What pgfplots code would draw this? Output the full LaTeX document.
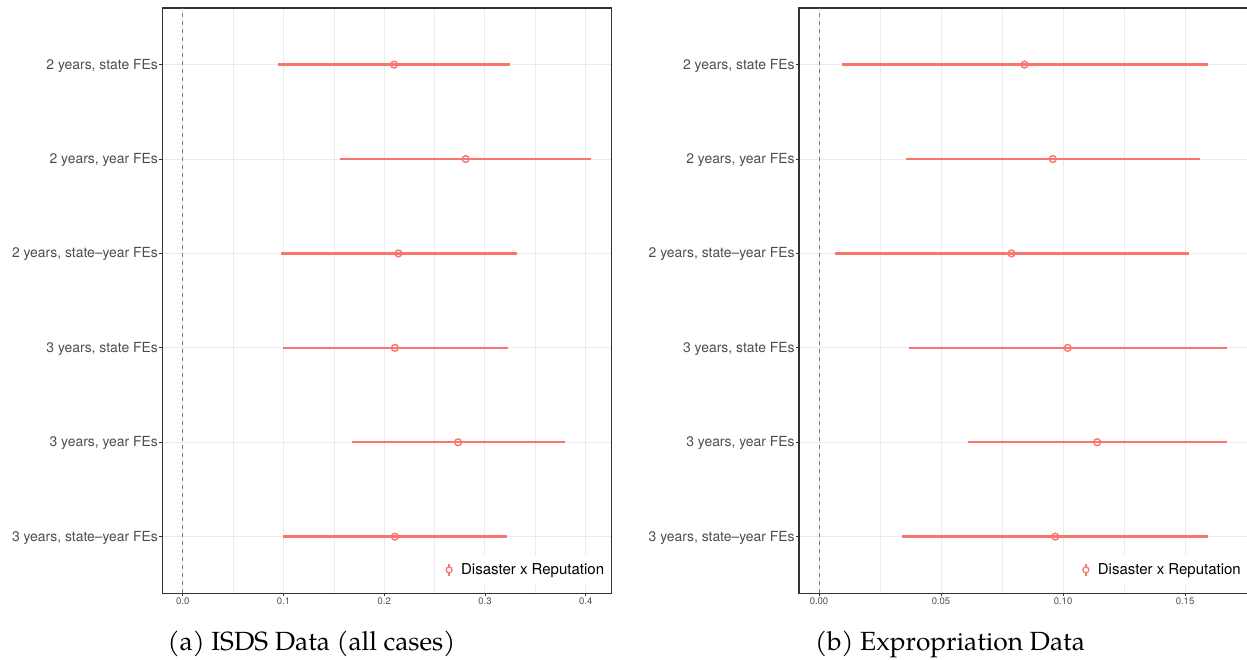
\documentclass[border=0pt]{standalone}
\usepackage{fontspec}
\setmainfont{TeX Gyre Pagella}
\newfontfamily\heros{TeX Gyre Heros}
\usepackage{pgfplots}
\pgfplotsset{compat=1.18}
\definecolor{ggred}{HTML}{F8766D}
\definecolor{grey20}{HTML}{333333}
\definecolor{grey30}{HTML}{4D4D4D}
\definecolor{grey50}{HTML}{7F7F7F}
\definecolor{grey92}{HTML}{EBEBEB}
\pgfplotsset{
  coefstyle/.style={
    scale only axis, width=449pt, height=585.3pt,
    anchor=south west,
    ymin=0.4, ymax=6.6,
    ytick={1,2,3,4,5,6},
    yticklabels={{3 years, state\textendash year FEs}, {3 years, year FEs}, {3 years, state FEs}, {2 years, state\textendash year FEs}, {2 years, year FEs}, {2 years, state FEs}},
    axis line style={grey20, line width=1.1pt},
    xtick pos=bottom, ytick pos=left,
    tick align=outside, major tick length=3pt, minor tick length=0pt,
    tick style={grey20, line width=0.9pt},
    xmajorgrids, ymajorgrids, xminorgrids,
    major grid style={grey92, line width=1pt},
    minor grid style={grey92, line width=0.6pt},
    minor x tick num=1,
    /pgf/number format/assume math mode=true,
    yticklabel style={font=\heros\fontsize{13.9}{16}\selectfont, text=grey30, inner xsep=1.2pt, yshift=-1pt},
    xticklabel style={font=\heros\fontsize{9.5}{11}\selectfont, text=grey30, inner ysep=1.5pt},
    legend style={at={(1,0)}, anchor=south east, yshift=9pt, xshift=-1pt, draw=none, fill=white,
      font=\heros\fontsize{15}{18}\selectfont, inner xsep=4pt, inner ysep=6pt},
    legend cell align=left,
  },
  errplot/.style={
    draw=none, mark=none, forget plot,
    error bars/.cd, x dir=both, x explicit,
    error mark=none,
    error bar style={ggred, line width=2.5pt},
  },
  markplot/.style={
    draw=none, mark=o, mark size=3.4pt,
    mark options={draw=ggred, fill=white, line width=1.4pt},
    legend image code/.code={
      \path[draw=none] (-2pt,0pt) -- (10pt,0pt);
      \draw[draw=ggred, line width=1.8pt] (0pt,-6pt) -- (0pt,6pt);
      \draw[draw=ggred, fill=white, line width=1.3pt] (0pt,0pt) circle (3pt);
    },
  },
}
\pgfplotstableread{
x y ep em
0.2098 6 0.1153 0.1149
0.2808 5 0.1243 0.1243
0.2141 4 0.1177 0.1168
0.2106 3 0.1118 0.1106
0.2733 2 0.1059 0.1055
0.2106 1 0.1110 0.1106
}\isdsdata
\pgfplotstableread{
x y ep em
0.0842 6 0.0750 0.0747
0.0958 5 0.0602 0.0600
0.0789 4 0.0726 0.0723
0.1019 3 0.0654 0.0650
0.1140 2 0.0533 0.0530
0.0968 1 0.0626 0.0628
}\expdata
\begin{document}
\begin{tikzpicture}
\useasboundingbox (0,0) rectangle (1247pt,660pt);
% (a) ISDS Data
\begin{axis}[coefstyle, at={(162.3pt,66.7pt)},
  xmin=-0.0203, xmax=0.4254,
  xtick={0,0.1,0.2,0.3,0.4},
  xticklabel style={/pgf/number format/.cd, fixed, fixed zerofill, precision=1},
]
\addplot[grey50, line width=1pt, dash pattern=on 4pt off 4pt, forget plot] coordinates {(0,0.4) (0,6.6)};
\addplot[errplot] table[x=x, y=y, x error plus=ep, x error minus=em] {\isdsdata};
\addplot[markplot] table[x=x, y=y] {\isdsdata};
\addlegendentry{Disaster x Reputation}
\end{axis}
% (b) Expropriation Data
\begin{axis}[coefstyle, at={(799pt,66.7pt)},
  xmin=-0.0082, xmax=0.1758,
  xtick={0,0.05,0.1,0.15},
  xticklabel style={/pgf/number format/.cd, fixed, fixed zerofill, precision=2},
]
\addplot[grey50, line width=1pt, dash pattern=on 4pt off 4pt, forget plot] coordinates {(0,0.4) (0,6.6)};
\addplot[errplot] table[x=x, y=y, x error plus=ep, x error minus=em] {\expdata};
\addplot[markplot] table[x=x, y=y] {\expdata};
\addlegendentry{Disaster x Reputation}
\end{axis}
\node[anchor=base, font=\fontsize{26.3}{31}\selectfont] at (311.5pt,9pt) {(a) ISDS Data (all cases)};
\node[anchor=base, font=\fontsize{26.3}{31}\selectfont] at (950pt,9pt) {(b) Expropriation Data};
\end{tikzpicture}
\end{document}
